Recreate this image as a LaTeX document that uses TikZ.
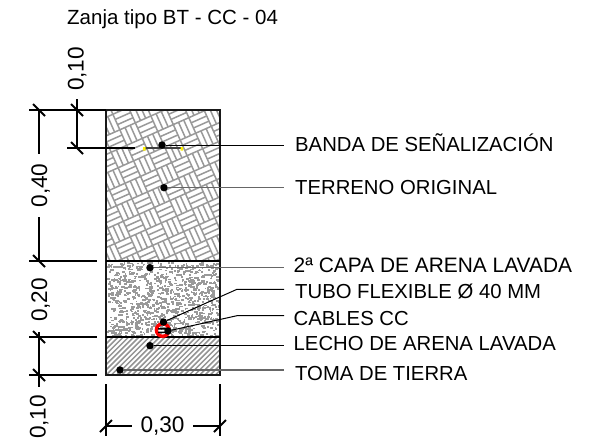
\documentclass[tikz,border=0pt]{standalone}
\usepackage{fontspec}
\setmainfont{Liberation Sans}
\begin{document}
\begin{tikzpicture}[x=1pt,y=-1pt,
  lead/.style={line width=1pt,black},
  leadg/.style={line width=1.1pt,black!60},
  dim/.style={line width=1.3pt,black},
  tick/.style={line width=1.8pt,black},
  hatchline/.style={line width=1.5pt,black!40},
  dotn/.style={circle,fill=black,inner sep=0pt,minimum size=7.5pt},
  lab/.style={anchor=base west,inner sep=0pt,font=\fontsize{20.3}{20.3}\selectfont},
  dimt/.style={inner sep=0pt,anchor=base,font=\fontsize{22.6}{22.6}\selectfont}]
\useasboundingbox (0,0) rectangle (611,442);
\fill[white] (0,0) rectangle (611,442);
% named corners
\coordinate (tl) at (106,110); \coordinate (tr) at (220,110);
\coordinate (al) at (106,261); \coordinate (ar) at (220,261);
\coordinate (bl) at (106,337); \coordinate (br) at (220,337);
\coordinate (el) at (106,375); \coordinate (er) at (220,375);
% weave
\begin{scope}
\clip (tl) rectangle (ar);
\begin{scope}[shift={(163,185)},rotate=24]
\foreach \i in {-12,...,12}{\foreach \j in {-12,...,12}{
  \pgfmathtruncatemacro{\pty}{mod(\i+\j+100,2)}
  \begin{scope}[shift={(\i*17,\j*17)}]
  \ifnum\pty=0
    \foreach \k in {0,5.67,11.33,17}{\draw[hatchline] (0,\k)--(17,\k);}
  \else
    \foreach \k in {0,5.67,11.33,17}{\draw[hatchline] (\k,0)--(\k,17);}
  \fi
  \end{scope}
}}
\end{scope}
\end{scope}
% sand
\pgfmathsetseed{4711}
\begin{scope}
\clip (al) rectangle (br);
\foreach \n in {1,...,1100}{
  \pgfmathsetmacro{\xx}{107+112*rnd}
  \pgfmathsetmacro{\yy}{262+75*rnd}
  \pgfmathsetmacro{\ww}{1+2.5*rnd}
  \fill[black!40] (\xx,\yy) rectangle (\xx+\ww,\yy+1.8);
}
\end{scope}
% diagonal hatch
\begin{scope}
\clip (bl) rectangle (er);
\foreach \n in {-10,...,36}{
  \draw[line width=1.5pt,black!42] (96+\n*5.2,380)--(96+\n*5.2+45,335);
}
\end{scope}
% outline
\draw[line width=1.6pt,black!90] (tl) rectangle (er);
\draw[line width=1.3pt] (al)--(ar) (bl)--(br);
% signal band
\coordinate (bd1) at (144,148); \coordinate (bd2) at (182,148);
\draw[line width=1.3pt,black!75] (bd1)--(bd2);
\fill[yellow] (143,147) rectangle (145.5,150.5) (180.5,147) rectangle (183,150.5);
% cable
\draw[red,line width=3.4pt] (162.7,330) circle (6.3);
\fill[black] (158,328) rectangle (168,329.5) (158,331.5) rectangle (168,333);
% dots and labels
\node[dotn] (d1) at (162,145) {};
\node[dotn] (d2) at (164,187.7) {};
\node[dotn] (d3) at (150,267.7) {};
\node[dotn] (d4) at (163.5,322) {};
\node[dotn] (d5) at (168,331) {};
\node[dotn] (d6) at (150,345.7) {};
\node[dotn] (d7) at (120,370) {};
\coordinate (k4) at (237,289.3); \coordinate (k5) at (237,315.7);
\coordinate (e1) at (284,145); \coordinate (e2) at (284,187.7);
\coordinate (e3) at (284,267.7); \coordinate (e4) at (284,289.3);
\coordinate (e5) at (284,315.7); \coordinate (e6) at (284,345.7);
\coordinate (e7) at (284,370);
\draw[lead] (d1)--(e1);
\draw[leadg] (d2)--(e2);
\draw[leadg] (d3)--(e3);
\draw[lead] (d4)--(k4)--(e4);
\draw[lead] (d5)--(k5)--(e5);
\draw[lead] (d6)--(e6);
\draw[leadg] (d7)--(e7);
\node[lab] (t1) at (295,151.7) {BANDA DE SEÑALIZACIÓN};
\node[lab] (t2) at (295,194.3) {TERRENO ORIGINAL};
\node[lab,font=\fontsize{20.9}{20.9}\selectfont] (t3) at (293.5,272.7) {2ª CAPA DE ARENA LAVADA};
\node[lab] (t4) at (295,298.3) {TUBO FLEXIBLE Ø 40 MM};
\node[lab] (t5) at (293.5,325) {CABLES CC};
\node[lab] (t6) at (293.5,350) {LECHO DE ARENA LAVADA};
\node[lab] (t7) at (295,380) {TOMA DE TIERRA};
\node[anchor=base west,inner sep=0pt,font=\fontsize{20.5}{20.5}\selectfont] (title) at (67,24.5) {Zanja tipo BT - CC - 04};
% extension lines
\coordinate (x1) at (29,110); \coordinate (x2) at (67,148);
\coordinate (x3) at (29,261); \coordinate (x4) at (29,337); \coordinate (x5) at (29,375);
\coordinate (x2e) at (135,148);
\coordinate (x3e) at (97,261); \coordinate (x4e) at (97,337); \coordinate (x5e) at (97,375);
\draw[dim] (x1)--(tl) (x2)--(x2e) (x3)--(x3e) (x4)--(x4e) (x5)--(x5e);
% vertical dims
\node[dimt,rotate=90] (v40) at (47,185.5) {0,40};
\node[dimt,rotate=90] (v20) at (47,300) {0,20};
\node[dimt,rotate=90] (v10a) at (83.5,69) {0,10};
\node[dimt,rotate=90] (v10b) at (45.5,417) {0,10};
\draw[dim] (39,110)--(39,154) (39,217)--(39,261) (39,332)--(39,387);
\draw[dim] (77,99)--(77,148);
% bottom dim
\coordinate (b1) at (106,384); \coordinate (b2) at (220,384);
\coordinate (b1e) at (106,436); \coordinate (b2e) at (220,436);
\draw[dim] (b1)--(b1e) (b2)--(b2e);
\node[dimt] (h30) at (162.5,432) {0,30};
\draw[dim] (106,426)--(132,426) (193,426)--(220,426);
% ticks
\foreach \p in {(39,110),(39,261),(39,337),(39,375),(77,110),(77,148)}{
  \draw[tick] \p ++(-6,-6)--++(12,12);
}
\foreach \p in {(106,426),(220,426)}{
  \draw[tick] \p ++(-6,6)--++(12,-12);
}
\end{tikzpicture}
\end{document}
